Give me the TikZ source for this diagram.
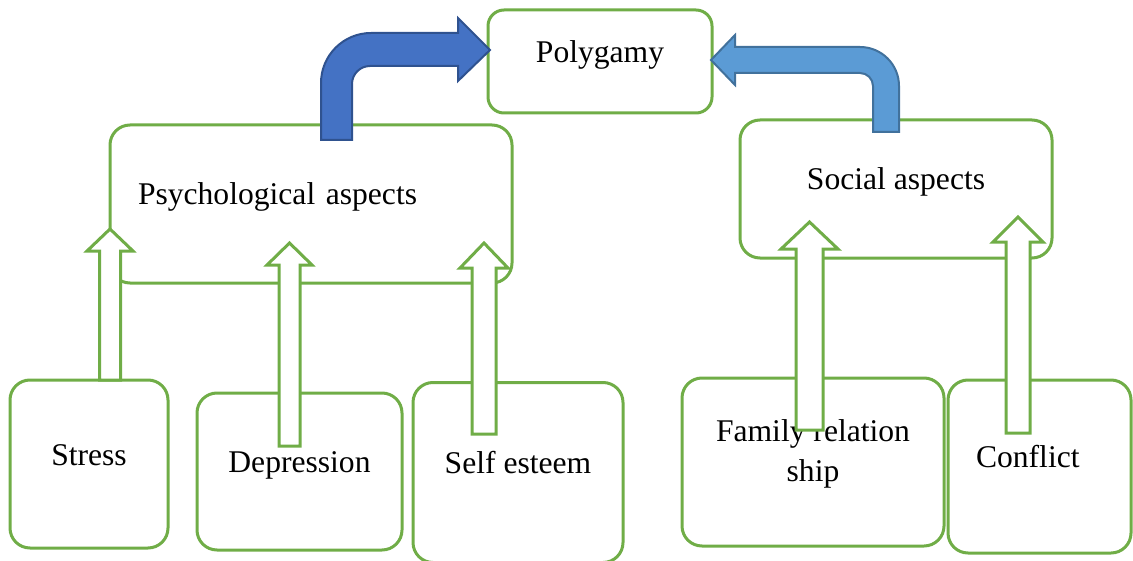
\documentclass[tikz,border=0pt]{standalone}
\usepackage{fontspec}
\setmainfont{Liberation Serif}
\usepackage{tikz}

\definecolor{boxgreen}{HTML}{70AD47}
\definecolor{darkblue}{HTML}{4472C4}
\definecolor{darkblueline}{HTML}{2F528F}
\definecolor{lightblue}{HTML}{5B9BD5}
\definecolor{lightblueline}{HTML}{41719C}

\tikzset{
  box/.style={draw=boxgreen, line width=1.5pt, rounded corners=10pt, inner sep=0pt,
    text height=11pt, text depth=10pt, align=center},
  leftbox/.style={box, align=left, inner xsep=14pt},
  hollow/.style={draw=boxgreen, line width=1.5pt, fill=white},
}

\begin{document}
\begin{tikzpicture}[x=0.5pt, y=-0.5pt, font=\fontsize{15.8}{20}\selectfont]
\useasboundingbox (0,0) rectangle (1133,561);

\node [box, minimum width=112pt, minimum height=51.5pt, rounded corners=8pt] (poly) at (600,61.5) {Polygamy};
\node [leftbox, text width=173pt, minimum height=79pt] (psych) at (311,204) {Psychological aspects};
\node [box, minimum width=156pt, minimum height=69pt] (social) at (896,189) {Social aspects};

\node [box, minimum width=79pt, minimum height=84pt] (stress) at (89,464) {Stress};
\node [box, minimum width=102.5pt, minimum height=78.5pt] (depr) at (299.5,471.5) {Depression};
\node [box, minimum width=105pt, minimum height=90pt] (self) at (518,472.5) {Self esteem};
\node [box, minimum width=131pt, minimum height=84pt, text height=31pt, text depth=12pt] (family) at (813,462) {Family relation\\ship};
\node [leftbox, text width=63.5pt, minimum height=86.5pt] (conflict) at (1039.5,466.5) {Conflict};

% bent arrows into polygamy
\draw [fill=darkblue, draw=darkblueline, line width=1pt]
  (321,140) -- (321,83) arc[start angle=180, end angle=270, radius=50] -- (458,33) -- (458,18)
  -- (490,50) -- (458,81) -- (458,66) -- (370,66) arc[start angle=270, end angle=180, radius=18]
  -- (352,140) -- cycle;
\draw [fill=lightblue, draw=lightblueline, line width=1pt]
  (711,60) -- (735,35) -- (735,47) -- (860,47) arc[start angle=270, end angle=360, radius=39]
  -- (899,132) -- (873,132) -- (873,86) arc[start angle=0, end angle=-90, radius=13]
  -- (735,73) -- (735,85) -- cycle;

% up arrows
\draw [hollow] (99.5,380) -- (99.5,251) -- (87,251) -- (110,229) -- (133,251) -- (120.5,251) -- (120.5,380) -- cycle;
\draw [hollow] (279,446) -- (279,265) -- (267,265) -- (289.5,243) -- (312,265) -- (300,265) -- (300,446) -- cycle;
\draw [hollow] (472,434) -- (472,268) -- (460,268) -- (484,243) -- (508,268) -- (496,268) -- (496,434) -- cycle;
\draw [hollow] (796,430) -- (796,249) -- (781,249) -- (809.5,222) -- (838,249) -- (823,249) -- (823,430) -- cycle;
\draw [hollow] (1006,433) -- (1006,242) -- (993,242) -- (1018,217) -- (1043,242) -- (1030,242) -- (1030,433) -- cycle;

\end{tikzpicture}
\end{document}
